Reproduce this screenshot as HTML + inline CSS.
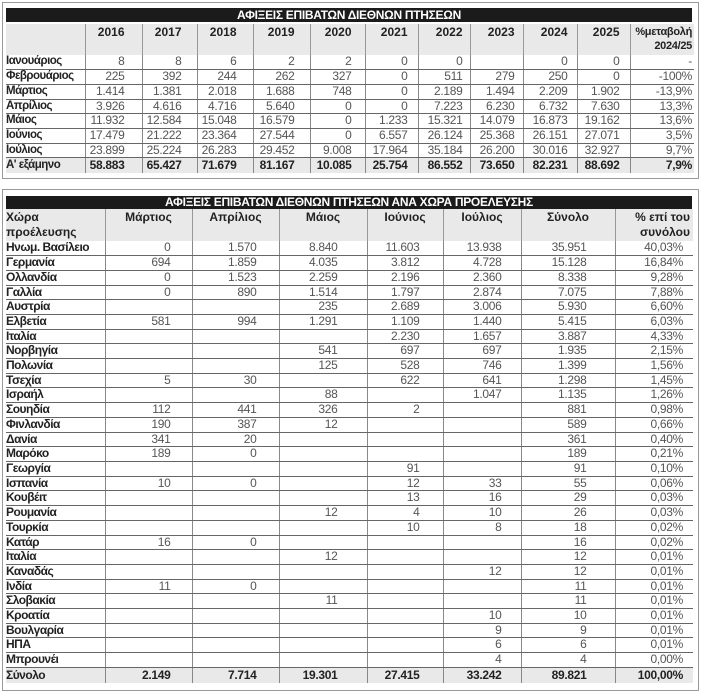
<!DOCTYPE html>
<html><head><meta charset="utf-8"><style>
body{margin:0;width:701px;height:683px;background:#fff;position:relative;overflow:hidden;font-family:"Liberation Sans Narrow","Liberation Sans",sans-serif;}
.box{position:absolute;left:2px;width:695px;border:1px solid #999;}
.bar{position:absolute;left:6px;width:686px;height:14px;background:#1b1b1b;color:#fff;font-weight:bold;font-size:12px;line-height:14px;text-align:center;letter-spacing:-0.3px}
table{position:absolute;left:6px;border-collapse:collapse;table-layout:fixed;font-size:12px;}
td,th{padding:0;white-space:nowrap;overflow:hidden;}
th{background:#e9e9e9;color:#222;font-weight:bold;text-align:right;vertical-align:top;border-left:1px solid #999;line-height:15px;padding-top:1px}
th:first-child{border-left:none;text-align:left}
td{color:#555;text-align:right;border-left:1px solid #888;border-bottom:1px solid #666;line-height:13.7px;letter-spacing:-0.3px}
td:first-child{border-left:none;color:#222;font-weight:bold;text-align:left;letter-spacing:-0.5px}
tr.tot td{background:#e9e9e9;color:#222;font-weight:bold;border-bottom:none}
#t1 td:nth-child(2),#t1 th:nth-child(2){padding-right:17px}
#t1 td:nth-child(3),#t1 th:nth-child(3){padding-right:15px}
#t1 td:nth-child(4),#t1 th:nth-child(4){padding-right:16px}
#t1 td:nth-child(5),#t1 th:nth-child(5){padding-right:15px}
#t1 td:nth-child(6),#t1 th:nth-child(6){padding-right:13px}
#t1 td:nth-child(7),#t1 th:nth-child(7){padding-right:10px}
#t1 td:nth-child(8),#t1 th:nth-child(8){padding-right:7px}
#t1 td:nth-child(9),#t1 th:nth-child(9){padding-right:8px}
#t1 td:nth-child(10),#t1 th:nth-child(10){padding-right:9px}
#t1 td:nth-child(11),#t1 th:nth-child(11){padding-right:10px}
#t1 td:nth-child(12),#t1 th:nth-child(12){padding-right:2px}
#t1 td:first-child{font-size:11.5px}
#t2 th{text-align:center}
#t2 th:first-child{text-align:left}
#t2 th:last-child{text-align:right;padding-right:3px}
#t2 td:nth-child(2){padding-right:21px}
#t2 td:nth-child(3){padding-right:22px}
#t2 td:nth-child(4){padding-right:29px}
#t2 td:nth-child(5){padding-right:23px}
#t2 td:nth-child(6){padding-right:19px}
#t2 td:nth-child(7){padding-right:28px}
#t2 td:nth-child(8){padding-right:10px}
</style></head><body>
<div class="box" style="top:2px;height:175px"></div>
<div class="bar" style="top:8px">ΑΦΙΞΕΙΣ ΕΠΙΒΑΤΩΝ ΔΙΕΘΝΩΝ ΠΤΗΣΕΩΝ</div>
<table id="t1" style="top:24px;width:688px">
<colgroup><col style="width:79px"><col style="width:57px"><col style="width:55px"><col style="width:56px"><col style="width:57px"><col style="width:55px"><col style="width:53px"><col style="width:52px"><col style="width:53px"><col style="width:54px"><col style="width:53px"><col style="width:64px"></colgroup>
<tr style="height:31px"><th></th><th>2016</th><th>2017</th><th>2018</th><th>2019</th><th>2020</th><th>2021</th><th>2022</th><th>2023</th><th>2024</th><th>2025</th><th style="font-size:11px;line-height:14px;letter-spacing:-0.3px">%μεταβολή<br>2024/25</th></tr>
<tr style="height:14.7px"><td>Ιανουάριος</td><td>8</td><td>8</td><td>6</td><td>2</td><td>2</td><td>0</td><td>0</td><td></td><td>0</td><td>0</td><td>-</td></tr>
<tr style="height:14.7px"><td>Φεβρουάριος</td><td>225</td><td>392</td><td>244</td><td>262</td><td>327</td><td>0</td><td>511</td><td>279</td><td>250</td><td>0</td><td>-100%</td></tr>
<tr style="height:14.7px"><td>Μάρτιος</td><td>1.414</td><td>1.381</td><td>2.018</td><td>1.688</td><td>748</td><td>0</td><td>2.189</td><td>1.494</td><td>2.209</td><td>1.902</td><td>-13,9%</td></tr>
<tr style="height:14.7px"><td>Απρίλιος</td><td>3.926</td><td>4.616</td><td>4.716</td><td>5.640</td><td>0</td><td>0</td><td>7.223</td><td>6.230</td><td>6.732</td><td>7.630</td><td>13,3%</td></tr>
<tr style="height:14.7px"><td>Μάιος</td><td>11.932</td><td>12.584</td><td>15.048</td><td>16.579</td><td>0</td><td>1.233</td><td>15.321</td><td>14.079</td><td>16.873</td><td>19.162</td><td>13,6%</td></tr>
<tr style="height:14.7px"><td>Ιούνιος</td><td>17.479</td><td>21.222</td><td>23.364</td><td>27.544</td><td>0</td><td>6.557</td><td>26.124</td><td>25.368</td><td>26.151</td><td>27.071</td><td>3,5%</td></tr>
<tr style="height:14.7px"><td>Ιούλιος</td><td>23.899</td><td>25.224</td><td>26.283</td><td>29.452</td><td>9.008</td><td>17.964</td><td>35.184</td><td>26.200</td><td>30.016</td><td>32.927</td><td>9,7%</td></tr>
<tr class="tot" style="height:15px"><td>Α' εξάμηνο</td><td>58.883</td><td>65.427</td><td>71.679</td><td>81.167</td><td>10.085</td><td>25.754</td><td>86.552</td><td>73.650</td><td>82.231</td><td>88.692</td><td>7,9%</td></tr>
</table>

<div class="box" style="top:189px;height:500px"></div>
<div class="bar" style="top:196px;height:13px;line-height:13px">ΑΦΙΞΕΙΣ ΕΠΙΒΑΤΩΝ ΔΙΕΘΝΩΝ ΠΤΗΣΕΩΝ ΑΝΑ ΧΩΡΑ ΠΡΟΕΛΕΥΣΗΣ</div>
<table id="t2" style="top:209px;width:687px">
<colgroup><col style="width:99px"><col style="width:87px"><col style="width:87px"><col style="width:88px"><col style="width:76px"><col style="width:78px"><col style="width:94px"><col style="width:78px"></colgroup>
<tr style="height:32px"><th>Χώρα<br>προέλευσης</th><th>Μάρτιος</th><th>Απρίλιος</th><th>Μάιος</th><th>Ιούνιος</th><th>Ιούλιος</th><th>Σύνολο</th><th>% επί του<br>συνόλου</th></tr>
<tr style="height:14.66px"><td>Ηνωμ. Βασίλειο</td><td>0</td><td>1.570</td><td>8.840</td><td>11.603</td><td>13.938</td><td>35.951</td><td>40,03%</td></tr>
<tr style="height:14.66px"><td>Γερμανία</td><td>694</td><td>1.859</td><td>4.035</td><td>3.812</td><td>4.728</td><td>15.128</td><td>16,84%</td></tr>
<tr style="height:14.66px"><td>Ολλανδία</td><td>0</td><td>1.523</td><td>2.259</td><td>2.196</td><td>2.360</td><td>8.338</td><td>9,28%</td></tr>
<tr style="height:14.66px"><td>Γαλλία</td><td>0</td><td>890</td><td>1.514</td><td>1.797</td><td>2.874</td><td>7.075</td><td>7,88%</td></tr>
<tr style="height:14.66px"><td>Αυστρία</td><td></td><td></td><td>235</td><td>2.689</td><td>3.006</td><td>5.930</td><td>6,60%</td></tr>
<tr style="height:14.66px"><td>Ελβετία</td><td>581</td><td>994</td><td>1.291</td><td>1.109</td><td>1.440</td><td>5.415</td><td>6,03%</td></tr>
<tr style="height:14.66px"><td>Ιταλία</td><td></td><td></td><td></td><td>2.230</td><td>1.657</td><td>3.887</td><td>4,33%</td></tr>
<tr style="height:14.66px"><td>Νορβηγία</td><td></td><td></td><td>541</td><td>697</td><td>697</td><td>1.935</td><td>2,15%</td></tr>
<tr style="height:14.66px"><td>Πολωνία</td><td></td><td></td><td>125</td><td>528</td><td>746</td><td>1.399</td><td>1,56%</td></tr>
<tr style="height:14.66px"><td>Τσεχία</td><td>5</td><td>30</td><td></td><td>622</td><td>641</td><td>1.298</td><td>1,45%</td></tr>
<tr style="height:14.66px"><td>Ισραήλ</td><td></td><td></td><td>88</td><td></td><td>1.047</td><td>1.135</td><td>1,26%</td></tr>
<tr style="height:14.66px"><td>Σουηδία</td><td>112</td><td>441</td><td>326</td><td>2</td><td></td><td>881</td><td>0,98%</td></tr>
<tr style="height:14.66px"><td>Φινλανδία</td><td>190</td><td>387</td><td>12</td><td></td><td></td><td>589</td><td>0,66%</td></tr>
<tr style="height:14.66px"><td>Δανία</td><td>341</td><td>20</td><td></td><td></td><td></td><td>361</td><td>0,40%</td></tr>
<tr style="height:14.66px"><td>Μαρόκο</td><td>189</td><td>0</td><td></td><td></td><td></td><td>189</td><td>0,21%</td></tr>
<tr style="height:14.66px"><td>Γεωργία</td><td></td><td></td><td></td><td>91</td><td></td><td>91</td><td>0,10%</td></tr>
<tr style="height:14.66px"><td>Ισπανία</td><td>10</td><td>0</td><td></td><td>12</td><td>33</td><td>55</td><td>0,06%</td></tr>
<tr style="height:14.66px"><td>Κουβέιτ</td><td></td><td></td><td></td><td>13</td><td>16</td><td>29</td><td>0,03%</td></tr>
<tr style="height:14.66px"><td>Ρουμανία</td><td></td><td></td><td>12</td><td>4</td><td>10</td><td>26</td><td>0,03%</td></tr>
<tr style="height:14.66px"><td>Τουρκία</td><td></td><td></td><td></td><td>10</td><td>8</td><td>18</td><td>0,02%</td></tr>
<tr style="height:14.66px"><td>Κατάρ</td><td>16</td><td>0</td><td></td><td></td><td></td><td>16</td><td>0,02%</td></tr>
<tr style="height:14.66px"><td>Ιταλία</td><td></td><td></td><td>12</td><td></td><td></td><td>12</td><td>0,01%</td></tr>
<tr style="height:14.66px"><td>Καναδάς</td><td></td><td></td><td></td><td></td><td>12</td><td>12</td><td>0,01%</td></tr>
<tr style="height:14.66px"><td>Ινδία</td><td>11</td><td>0</td><td></td><td></td><td></td><td>11</td><td>0,01%</td></tr>
<tr style="height:14.66px"><td>Σλοβακία</td><td></td><td></td><td>11</td><td></td><td></td><td>11</td><td>0,01%</td></tr>
<tr style="height:14.66px"><td>Κροατία</td><td></td><td></td><td></td><td></td><td>10</td><td>10</td><td>0,01%</td></tr>
<tr style="height:14.66px"><td>Βουλγαρία</td><td></td><td></td><td></td><td></td><td>9</td><td>9</td><td>0,01%</td></tr>
<tr style="height:14.66px"><td>ΗΠΑ</td><td></td><td></td><td></td><td></td><td>6</td><td>6</td><td>0,01%</td></tr>
<tr style="height:14.66px"><td>Μπρουνέι</td><td></td><td></td><td></td><td></td><td>4</td><td>4</td><td>0,00%</td></tr>
<tr class="tot" style="height:16px"><td>Σύνολο</td><td>2.149</td><td>7.714</td><td>19.301</td><td>27.415</td><td>33.242</td><td>89.821</td><td>100,00%</td></tr>
</table>
</body></html>
